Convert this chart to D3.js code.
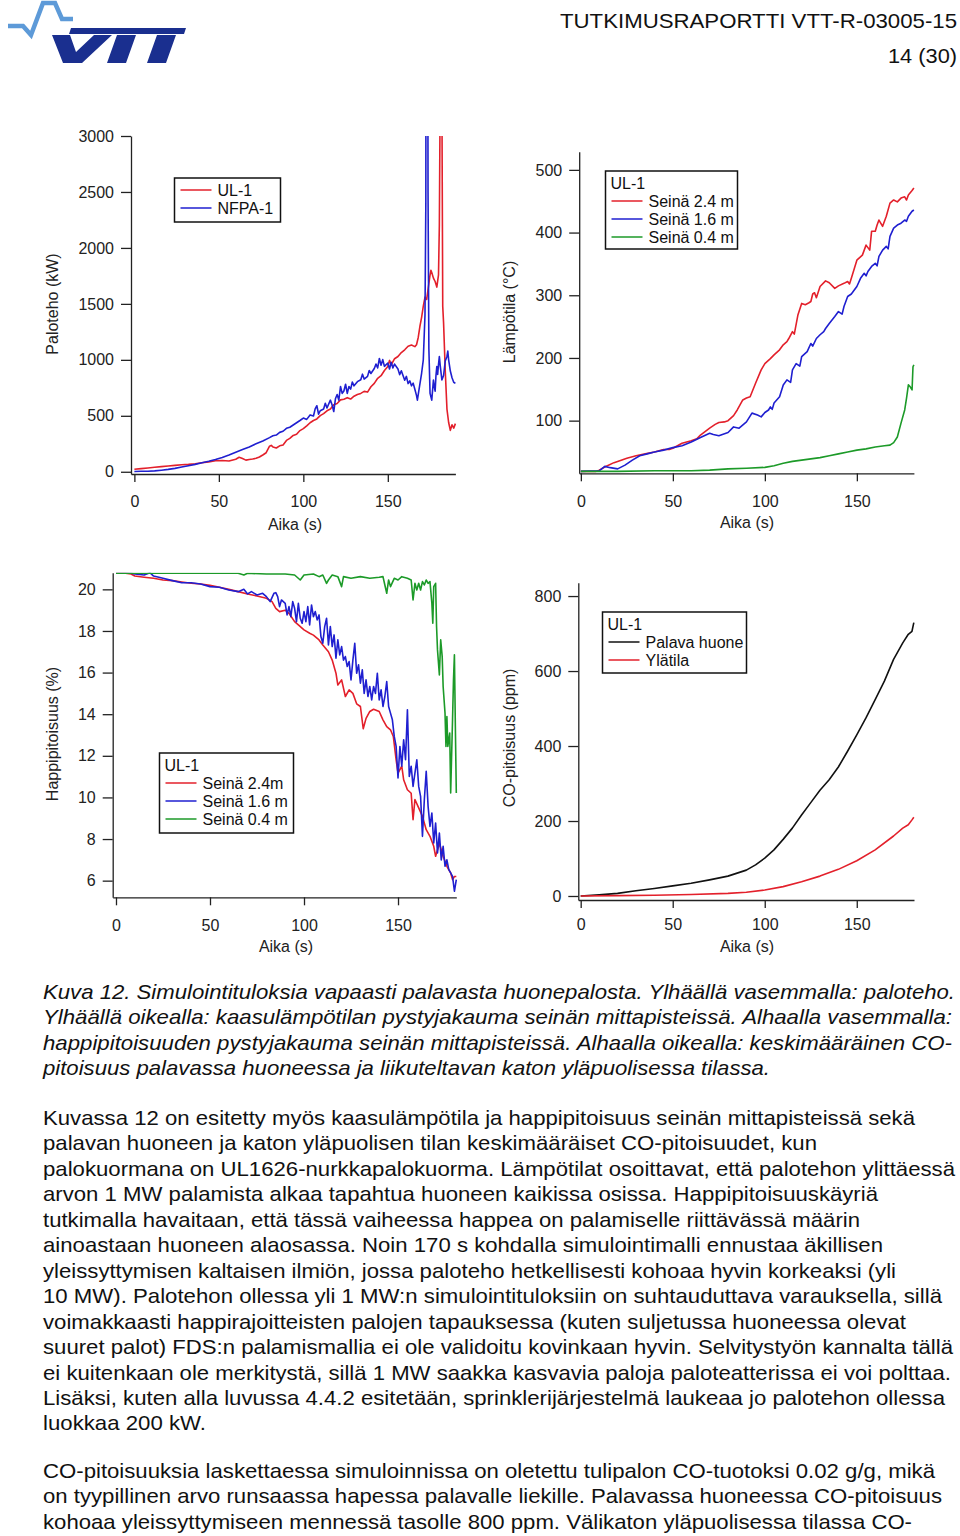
<!DOCTYPE html>
<html lang="fi">
<head>
<meta charset="UTF-8">
<title>Kuva 12</title>
<script src="https://d3js.org/d3.v7.min.js"></script>
<style>
  body { margin: 0; background: #ffffff; }
  svg { display: block; font-family: "Liberation Sans", Arial, sans-serif; }
  .axis text { font-size: 16px; fill: #222; }
  .axis path, .axis line { stroke: #222; stroke-width: 1.3px; }
</style>
</head>
<body>
<div id="page"></div>
<script>
// ---- data ----
const xTicks = [0, 50, 100, 150];

// top left: fire power (kW)
const hrrTicks = [0, 500, 1000, 1500, 2000, 2500, 3000];
const ulHrr = [[0,22],[4,28],[8,34],[12,40],[16,46],[20,52],[24,57],[28,62],[32,66],[36,72],[40,80],[44,88],[48,98],[52,100],[56,96],[60,112],[62,130],[64,118],[66,104],[68,110],[70,114],[72,120],[74,132],[76,150],[78,170],[80,228],[81,236],[82,222],[84,212],[86,232],[88,240],[90,280],[92,298],[94,325],[96,335],[98,368],[100,385],[102,410],[104,438],[106,458],[108,472],[110,502],[112,520],[114,545],[116,560],[118,598],[120,610],[122,642],[124,648],[126,662],[128,650],[130,675],[132,690],[134,700],[136,718],[138,712],[140,760],[142,790],[144,835],[146,858],[148,905],[150,940],[151,995],[152,955],[154,1010],[156,1030],[158,1065],[160,1090],[162,1122],[164,1132],[166,1118],[167,1135],[168,1200],[169,1300],[170,1380],[171,1480],[172,1560],[173,1540],[174,1650],[175,1760],[175.5,1800],[176,1780],[177,1730],[178,1700],[179,1650],[180,1760],[180.5,2200],[181,3400],[181.5,11000],[182,3400],[182.5,1480],[183,1330],[184,900],[185,560],[186,440],[187,370],[188,420],[189,390],[190,430]];
const nfpaHrr = [[0,3],[4,4],[8,5],[12,8],[16,14],[20,21],[24,30],[28,42],[32,54],[36,66],[40,80],[44,94],[48,110],[52,128],[56,150],[60,175],[64,198],[68,222],[72,250],[76,275],[80,305],[82,322],[84,328],[86,352],[88,362],[90,388],[92,398],[94,418],[96,438],[98,458],[100,480],[102,468],[104,508],[106,498],[107,562],[108,590],[109,515],[110,545],[112,560],[113,612],[114,570],[116,640],[117,598],[118,538],[119,652],[120,690],[121,640],[122,762],[123,700],[124,722],[125,782],[126,700],[127,762],[128,738],[129,802],[130,768],[132,805],[134,822],[135,872],[136,828],[138,852],[139,905],[140,878],[142,922],[143,962],[144,928],[145,1012],[146,952],[147,1002],[148,942],[150,972],[151,918],[152,978],[153,928],[154,962],[156,918],[157,868],[158,902],[160,818],[161,852],[162,788],[163,812],[164,768],[165,792],[166,738],[167,680],[167.5,640],[168,690],[169,785],[170,880],[171,1000],[172,1400],[172.5,2400],[173,11000],[173.8,2500],[174.3,1100],[175,700],[176,640],[177,820],[177.5,760],[178,720],[178.5,860],[179,940],[179.5,870],[180,960],[180.5,1030],[181,950],[182,820],[183,860],[184,990],[185,1030],[185.5,1078],[186,1000],[187,900],[188,840],[189,800],[190,790]];

// top right: gas temperature (°C)
const tempTicks = [100, 200, 300, 400, 500];
const temp24 = [[0,19],[8,19],[10,21],[13,26],[15,29],[18,33],[20,35],[25,40],[30,44],[35,47],[40,50],[45,54],[48,54],[50,56],[55,64],[60,68],[63,71],[65,77],[70,88],[73,94],[75,97],[78,98],[80,100],[83,108],[85,117],[88,133],[90,136],[92,138],[95,160],[98,181],[100,191],[103,199],[105,205],[108,213],[110,221],[112,226],[113,231],[115,242],[116,238],[118,269],[120,287],[122,285],[124,288],[125,290],[126,302],[127,304],[128,296],[130,314],[133,323],[135,320],[138,311],[140,315],[143,319],[145,322],[146,318],[147,327],[150,356],[153,364],[154,372],[155,380],[157,372],[158,402],[160,402],[161,412],[162,420],[164,410],[166,426],[168,447],[170,452],[172,449],[174,455],[176,457],[177,452],[178,460],[180,467],[181,471]];
const temp16 = [[0,19],[10,20],[13,27],[16,25],[20,23],[24,29],[28,37],[32,44],[36,47],[40,50],[45,53],[50,57],[55,60],[60,66],[65,73],[70,80],[72,78],[75,76],[80,81],[83,90],[86,88],[90,98],[93,112],[96,109],[98,106],[100,113],[102,117],[103,122],[104,118],[105,128],[108,138],[110,157],[112,165],[114,161],[115,181],[117,191],[119,187],[120,202],[123,210],[125,223],[126,219],[128,231],[130,237],[132,242],[133,247],[135,255],[138,266],[140,274],[142,270],[143,282],[145,298],[147,302],[148,306],[150,314],[152,327],[154,335],[155,331],[156,338],[158,346],[160,351],[161,347],[162,362],[164,372],[166,378],[167,374],[168,394],[170,407],[172,412],[174,415],[176,420],[177,418],[178,426],[180,434],[181,436]];
const temp04 = [[0,19],[20,19],[40,20],[60,20],[70,21],[80,23],[90,24],[100,25.5],[105,28],[110,32],[115,35],[120,37],[125,39],[130,41],[135,44],[140,47],[145,50],[150,53],[155,55],[160,58],[165,60],[168,61],[170,65],[172,74],[174,96],[176,117],[177,136],[178,157],[179,154],[180,149],[180.5,186],[181,189]];

// bottom left: oxygen (%)
const o2Ticks = [6, 8, 10, 12, 14, 16, 18, 20];
const o2_24 = [[0,20.77],[5,20.77],[8,20.74],[10,20.64],[15,20.58],[20,20.53],[25,20.45],[30,20.42],[35,20.35],[40,20.29],[45,20.26],[50,20.19],[55,20.1],[60,20.0],[65,19.89],[70,19.78],[75,19.68],[80,19.57],[83,19.41],[85,19.09],[87,18.93],[90,19.0],[92,18.85],[95,18.45],[97,18.29],[100,18.05],[103,17.89],[105,17.8],[108,17.57],[110,17.33],[113,17.0],[115,16.6],[117,15.97],[118,15.4],[120,15.65],[122,14.85],[124,15.17],[126,15.0],[128,14.5],[130,14.37],[131.5,13.3],[133,13.8],[135,14.13],[137,14.24],[140,14.13],[142,13.73],[144,13.4],[146,13.25],[147.5,12.93],[149,11.8],[150,11.17],[152,11.5],[153,10.85],[155,10.37],[157,10.2],[158,8.93],[159,9.9],[161,9.5],[163,9.09],[165,8.45],[167,8.13],[169,7.65],[170,7.17],[172,7.8],[174,7.17],[176,6.69],[178,6.37],[179,6.05],[180,6.2],[181,6.2]];
const o2_16 = [[0,20.77],[8,20.77],[10,20.74],[15,20.69],[18,20.8],[20,20.64],[25,20.53],[30,20.42],[35,20.32],[40,20.32],[45,20.26],[50,20.13],[55,20.1],[60,19.97],[65,19.89],[68,20.0],[70,19.78],[72,19.89],[75,19.73],[78,19.81],[80,19.65],[82,19.41],[84,19.81],[85,19.84],[86,19.65],[87,19.17],[88,19.49],[90,19.33],[91,18.77],[92,19.17],[93,18.69],[94,19.41],[95,19.09],[96,18.45],[97,19.33],[98,18.61],[99,18.37],[100,18.93],[101,18.45],[102,19.17],[103,18.29],[104,19.25],[105,18.69],[106,18.93],[107,18.53],[108,18.77],[109,17.73],[110,17.41],[111,18.21],[112,18.61],[113,17.33],[114,18.21],[115,17.25],[116,17.81],[117,16.69],[118,17.57],[119,16.85],[120,17.25],[121,16.6],[122,16.77],[123,16.29],[124,16.53],[125,15.65],[126,16.6],[127,17.41],[128,15.97],[129,16.37],[130,15.49],[131,16.13],[132,15.0],[133,15.65],[134,14.85],[135,15.33],[136,14.69],[137,15.33],[138,15.0],[139,15.97],[140,14.69],[141,15.17],[142,14.37],[143,14.85],[144,15.57],[145,14.37],[146,14.05],[147,13.73],[148,12.93],[149,12.45],[150,10.93],[151,12.45],[152,11.5],[153,12.77],[154,11.81],[155,14.21],[156,11.01],[157,11.5],[158,10.53],[159,11.17],[160,11.81],[161,10.53],[162,10.05],[163,8.13],[164,9.89],[165,11.25],[166,9.57],[167,8.61],[168,9.25],[169,7.81],[170,8.77],[171,7.33],[172,8.29],[173,7.0],[174,7.65],[175,6.69],[176,7.0],[177,6.53],[178,6.37],[179,6.21],[180,5.49],[181,6.05]];
const o2_04 = [[0,20.77],[30,20.77],[65,20.77],[68,20.69],[70,20.77],[80,20.74],[90,20.74],[95,20.69],[98,20.45],[100,20.69],[105,20.74],[108,20.61],[110,20.69],[112,20.29],[113,20.45],[115,20.69],[118,20.61],[120,20.13],[121,20.61],[125,20.53],[130,20.61],[135,20.53],[140,20.58],[142,20.61],[143,20.21],[144,19.81],[145,20.45],[146,20.13],[148,20.53],[150,20.45],[152,20.61],[155,20.53],[157,20.45],[158,19.49],[159,20.29],[160,19.97],[161,20.29],[162,19.97],[163,20.37],[164,20.21],[165,20.45],[166,20.29],[167,20.37],[168,19.33],[168.5,18.37],[169,20.13],[170,20.29],[170.5,18.21],[171,17.09],[172,15.89],[172.7,17.57],[173.5,16.77],[174,15.33],[175,14.05],[175.5,12.45],[176,13.89],[176.5,12.45],[177.5,13.09],[178,10.21],[179,13.73],[179.5,15.65],[180,16.85],[180.5,13.4],[181,10.21]];

// bottom right: CO (ppm)
const coTicks = [0, 200, 400, 600, 800];
const coRoom = [[0,0],[10,3],[20,7],[30,14],[40,20],[50,27],[60,34],[70,43],[80,53],[90,69],[95,83],[100,101],[105,123],[110,151],[115,181],[120,216],[125,249],[130,282],[135,310],[140,344],[145,386],[150,430],[155,475],[160,524],[165,573],[170,631],[175,675],[178,698],[180,706],[181,729]];
const coUpper = [[0,0],[20,1],[40,2],[60,4],[80,7],[90,10],[100,16],[110,25],[120,38],[130,53],[140,71],[150,94],[160,123],[170,160],[175,181],[178,190],[180,203],[181,210]];

const captionLines = [
  "Kuva 12. Simulointituloksia vapaasti palavasta huonepalosta. Ylhäällä vasemmalla: paloteho.",
  "Ylhäällä oikealla: kaasulämpötilan pystyjakauma seinän mittapisteissä. Alhaalla vasemmalla:",
  "happipitoisuuden pystyjakauma seinän mittapisteissä. Alhaalla oikealla: keskimääräinen CO-",
  "pitoisuus palavassa huoneessa ja liikuteltavan katon yläpuolisessa tilassa."
];
const captionWidths = [912, 909, 909, 727];
const bodyLines = [
  "Kuvassa 12 on esitetty myös kaasulämpötila ja happipitoisuus seinän mittapisteissä sekä",
  "palavan huoneen ja katon yläpuolisen tilan keskimääräiset CO-pitoisuudet, kun",
  "palokuormana on UL1626-nurkkapalokuorma. Lämpötilat osoittavat, että palotehon ylittäessä",
  "arvon 1 MW palamista alkaa tapahtua huoneen kaikissa osissa. Happipitoisuuskäyriä",
  "tutkimalla havaitaan, että tässä vaiheessa happea on palamiselle riittävässä määrin",
  "ainoastaan huoneen alaosassa. Noin 170 s kohdalla simulointimalli ennustaa äkillisen",
  "yleissyttymisen kaltaisen ilmiön, jossa paloteho hetkellisesti kohoaa hyvin korkeaksi (yli",
  "10 MW). Palotehon ollessa yli 1 MW:n simulointituloksiin on suhtauduttava varauksella, sillä",
  "voimakkaasti happirajoitteisten palojen tapauksessa (kuten suljetussa huoneessa olevat",
  "suuret palot) FDS:n palamismallia ei ole validoitu kovinkaan hyvin. Selvitystyön kannalta tällä",
  "ei kuitenkaan ole merkitystä, sillä 1 MW saakka kasvavia paloja paloteatterissa ei voi polttaa.",
  "Lisäksi, kuten alla luvussa 4.4.2 esitetään, sprinklerijärjestelmä laukeaa jo palotehon ollessa",
  "luokkaa 200 kW."
];
const bodyWidths = [872, 774, 912, 835, 817, 840, 853, 899, 863, 910, 908, 902, 163];
const coLines = [
  "CO-pitoisuuksia laskettaessa simuloinnissa on oletettu tulipalon CO-tuotoksi 0.02 g/g, mikä",
  "on tyypillinen arvo runsaassa hapessa palavalle liekille. Palavassa huoneessa CO-pitoisuus",
  "kohoaa yleissyttymiseen mennessä tasolle 800 ppm. Välikaton yläpuolisessa tilassa CO-"
];
const coWidths = [892, 899, 869];

const RED = "#e3202b", BLUE = "#1f1fd0", GREEN = "#1c9a28", BLACK = "#111";

const svg = d3.select("#page").append("svg")
  .attr("width", 960).attr("height", 1536);

// ---- header ----
const logo = svg.append("g");
logo.append("path")
  .attr("d", "M8,26 L23,26 L31,35 L43,3 L55,3 L62,19 L73,19")
  .attr("fill", "none").attr("stroke", "#5d9ad8").attr("stroke-width", 4.5)
  .attr("stroke-linejoin", "miter");
logo.append("path").attr("fill", "#1a2f8f")
  .attr("d", "M71,28 L186,28 L184,34 L69,34 Z M52,35 L70,35 L76,52 L94,35 L112,35 L82,63 L63,63 Z " +
             "M117,35 L136,35 L126,63 L107,63 Z M157,35 L176,35 L166,63 L147,63 Z");

svg.append("text").attr("x", 957).attr("y", 28).attr("text-anchor", "end")
  .attr("font-size", 21).attr("fill", "#111")
  .attr("textLength", 397).attr("lengthAdjust", "spacingAndGlyphs")
  .text("TUTKIMUSRAPORTTI VTT-R-03005-15");
svg.append("text").attr("x", 957).attr("y", 63).attr("text-anchor", "end")
  .attr("font-size", 21).attr("fill", "#111")
  .attr("textLength", 69).attr("lengthAdjust", "spacingAndGlyphs")
  .text("14 (30)");

// ---- chart panels ----
function panel(cfg, id) {
  const x = d3.scaleLinear().domain(cfg.xDomain).range(cfg.xRange);
  const y = d3.scaleLinear().domain(cfg.yDomain).range(cfg.yRange);
  const g = svg.append("g");

  g.append("clipPath").attr("id", "clip" + id).append("rect")
    .attr("x", cfg.xRange[0]).attr("y", cfg.yRange[1])
    .attr("width", cfg.xRange[1] - cfg.xRange[0] + 2)
    .attr("height", cfg.yRange[0] - cfg.yRange[1]);

  g.append("g").attr("class", "axis")
    .attr("transform", `translate(0,${cfg.yRange[0]})`)
    .call(d3.axisBottom(x).tickValues(xTicks).tickFormat(d3.format("d"))
      .tickSize(8).tickSizeOuter(0).tickPadding(cfg.xPad));
  g.append("g").attr("class", "axis")
    .attr("transform", `translate(${cfg.xRange[0]},0)`)
    .call(d3.axisLeft(y).tickValues(cfg.yTicks).tickFormat(d3.format("d"))
      .tickSize(10).tickSizeOuter(0).tickPadding(7));

  g.append("text").attr("x", cfg.xLabelAt[0]).attr("y", cfg.xLabelAt[1])
    .attr("text-anchor", "middle").attr("font-size", 16).attr("fill", "#222").text("Aika (s)");
  g.append("text").attr("text-anchor", "middle").attr("font-size", 16).attr("fill", "#222")
    .attr("transform", `translate(${cfg.yLabelAt[0]},${cfg.yLabelAt[1]}) rotate(-90)`)
    .text(cfg.yLabel);

  const line = d3.line().x(d => x(d[0])).y(d => y(d[1]));
  const lines = g.append("g").attr("clip-path", `url(#clip${id})`);
  cfg.series.forEach(s => {
    lines.append("path").datum(s.data).attr("d", line)
      .attr("fill", "none").attr("stroke", s.color).attr("stroke-width", 1.6)
      .attr("stroke-linejoin", "round");
  });

  // legend
  const L = cfg.legend;
  const lg = g.append("g").attr("transform", `translate(${L.x},${L.y})`);
  lg.append("rect").attr("width", L.w).attr("height", L.h)
    .attr("fill", "#fff").attr("stroke", "#111").attr("stroke-width", 1.5);
  let row = 0;
  if (L.title) {
    lg.append("text").attr("x", 5).attr("y", 18).attr("font-size", 16).attr("fill", "#111").text(L.title);
    row = 1;
  }
  cfg.series.forEach((s, i) => {
    const cy = 12 + (row + i) * 18;
    lg.append("line").attr("x1", L.sx).attr("x2", L.sx + 31).attr("y1", cy).attr("y2", cy)
      .attr("stroke", s.color).attr("stroke-width", 1.5);
    lg.append("text").attr("x", L.sx + 37).attr("y", cy + 6).attr("font-size", 16)
      .attr("fill", "#111").text(s.name);
  });
}

panel({
  xDomain: [-2, 190], xRange: [131, 455.4],
  yDomain: [-20, 3000], yRange: [474, 136],
  yTicks: hrrTicks, xPad: 14,
  xLabelAt: [295, 530], yLabelAt: [58, 304], yLabel: "Paloteho (kW)",
  series: [{ name: "UL-1", color: RED, data: ulHrr }, { name: "NFPA-1", color: BLUE, data: nfpaHrr }],
  legend: { x: 174.5, y: 178, w: 106, h: 44, sx: 6 }
}, 1);

panel({
  xDomain: [-0.9, 181], xRange: [579.2, 913.9],
  yDomain: [16, 529], yRange: [473.3, 151.7],
  yTicks: tempTicks, xPad: 14,
  xLabelAt: [747, 528], yLabelAt: [515, 312], yLabel: "Lämpötila (°C)",
  series: [{ name: "Seinä 2.4 m", color: RED, data: temp24 },
           { name: "Seinä 1.6 m", color: BLUE, data: temp16 },
           { name: "Seinä 0.4 m", color: GREEN, data: temp04 }],
  legend: { x: 605.5, y: 171, w: 132, h: 78, title: "UL-1", sx: 6 }
}, 2);

panel({
  xDomain: [-1.75, 181], xRange: [112.7, 456.3],
  yDomain: [5.2, 20.8], yRange: [897.3, 572.7],
  yTicks: o2Ticks, xPad: 14,
  xLabelAt: [286, 952], yLabelAt: [58, 734], yLabel: "Happipitoisuus (%)",
  series: [{ name: "Seinä 2.4m", color: RED, data: o2_24 },
           { name: "Seinä 1.6 m", color: BLUE, data: o2_16 },
           { name: "Seinä 0.4 m", color: GREEN, data: o2_04 }],
  legend: { x: 159.5, y: 753, w: 134, h: 80, title: "UL-1", sx: 6 }
}, 3);

panel({
  xDomain: [-1.3, 181.1], xRange: [578.3, 914],
  yDomain: [-10.7, 835.6], yRange: [900, 582.7],
  yTicks: coTicks, xPad: 11,
  xLabelAt: [747, 952], yLabelAt: [515, 738], yLabel: "CO-pitoisuus (ppm)",
  series: [{ name: "Palava huone", color: BLACK, data: coRoom },
           { name: "Ylätila", color: RED, data: coUpper }],
  legend: { x: 602.5, y: 612, w: 144, h: 61, title: "UL-1", sx: 6 }
}, 4);

// ---- text below the figure ----
function block(lines, widths, y0, italic) {
  lines.forEach((t, i) => {
    svg.append("text").attr("x", 43).attr("y", y0 + i * 25.45)
      .attr("font-size", 21).attr("fill", "#111")
      .attr("font-style", italic ? "italic" : "normal")
      .attr("textLength", widths[i]).attr("lengthAdjust", "spacingAndGlyphs")
      .text(t);
  });
}
block(captionLines, captionWidths, 999, true);
block(bodyLines, bodyWidths, 1125, false);
block(coLines, coWidths, 1478, false);
</script>
</body>
</html>
